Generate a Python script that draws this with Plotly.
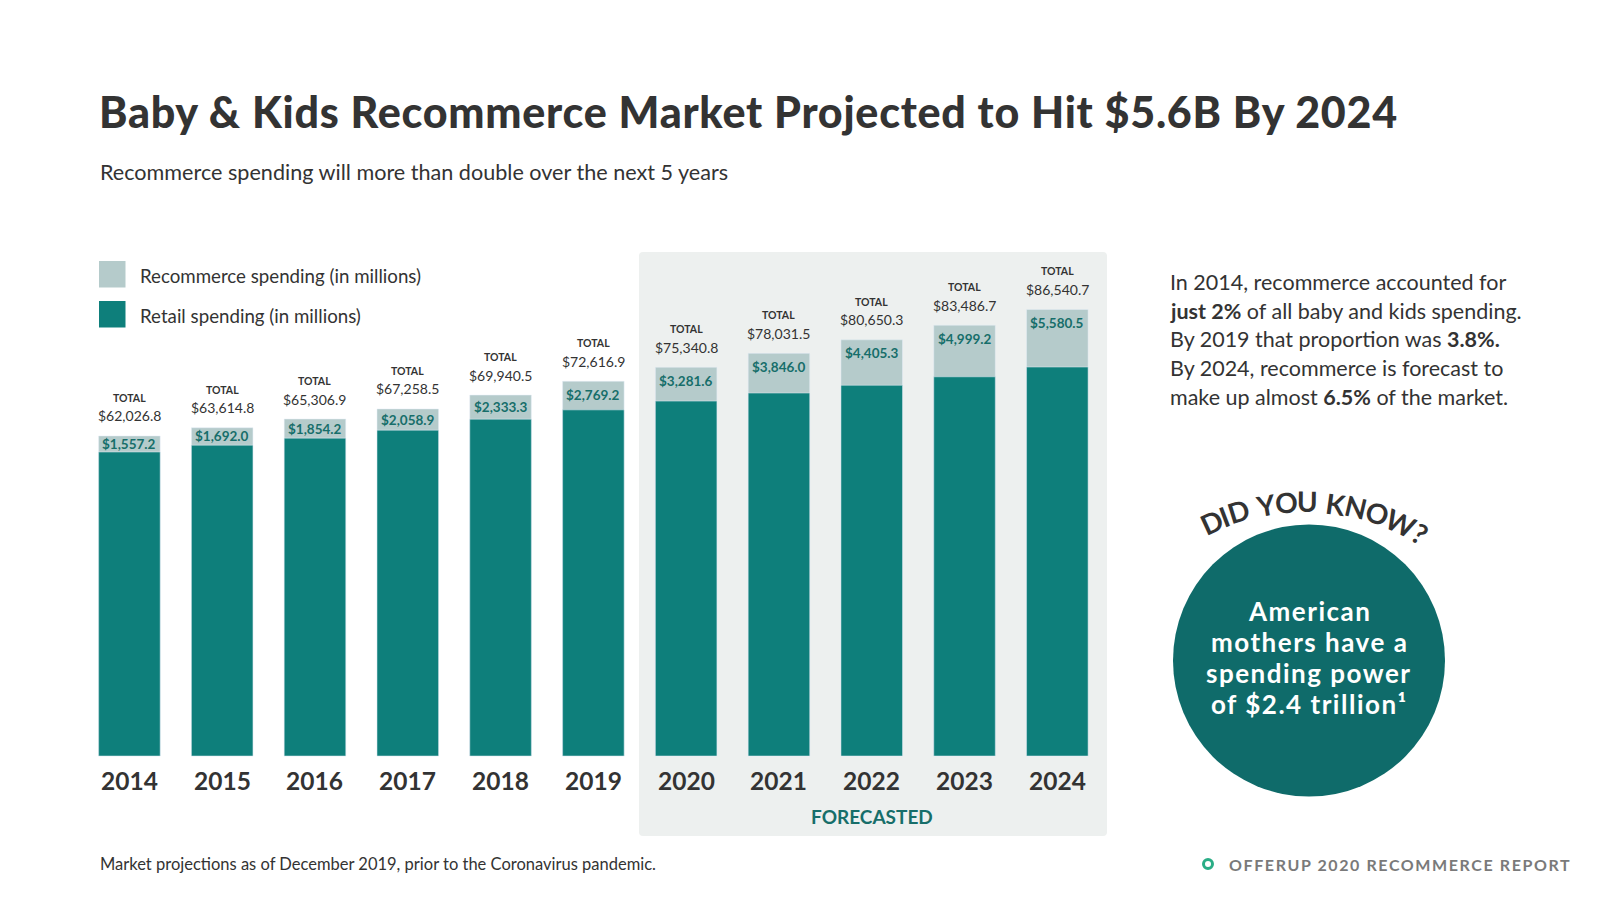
import math
import plotly.graph_objects as go

# ---------------- data ----------------
years = ["2014", "2015", "2016", "2017", "2018", "2019", "2020", "2021", "2022", "2023", "2024"]
recommerce = [1557.2, 1692.0, 1854.2, 2058.9, 2333.3, 2769.2, 3281.6, 3846.0, 4405.3, 4999.2, 5580.5]
totals = [62026.8, 63614.8, 65306.9, 67258.5, 69940.5, 72616.9, 75340.8, 78031.5, 80650.3, 83486.7, 86540.7]
forecast_years = ["2020", "2021", "2022", "2023", "2024"]

# the reference draws the recommerce band at twice the scale of the totals
REC_SCALE = 2.0

# ---------------- geometry ----------------
W, H = 1600, 900
ML, MR, MT, MB = 83, 487, 240, 60
PW = W - ML - MR
PH = H - MT - MB
BASE_PX = 756
YMAX = 100000.0
UPP = YMAX / (BASE_PX - MT)          # data units per pixel
YMIN = -(H - MB - BASE_PX) * UPP

def px(x):
    return (x - ML) / PW

def py(y):
    return (H - MB - y) / PH

DARK = "#0e7f7b"
LIGHT = "#b5cbcb"
TXT = "#333333"
LABEL_TEAL = "#176e6a"
FONT = "Lato"

idx = list(range(len(years)))
retail_visible = [t - REC_SCALE * r for t, r in zip(totals, recommerce)]

fig = go.Figure()
fig.add_trace(go.Bar(x=idx, y=totals, marker_color=LIGHT, width=0.663,
                     name="Recommerce spending (in millions)", hoverinfo="skip"))
fig.add_trace(go.Bar(x=idx, y=retail_visible, marker_color=DARK, width=0.663,
                     name="Retail spending (in millions)", hoverinfo="skip"))

ann = []
shapes = []

def rrect_path(x0, y0, x1, y1, r):
    def P(a, b):
        return f"{px(a):.5f},{py(b):.5f}"
    return (f"M {P(x0 + r, y0)} L {P(x1 - r, y0)} Q {P(x1, y0)} {P(x1, y0 + r)} "
            f"L {P(x1, y1 - r)} Q {P(x1, y1)} {P(x1 - r, y1)} L {P(x0 + r, y1)} "
            f"Q {P(x0, y1)} {P(x0, y1 - r)} L {P(x0, y0 + r)} Q {P(x0, y0)} {P(x0 + r, y0)} Z")

# forecast panel
shapes.append(dict(type="path", xref="paper", yref="paper",
                   path=rrect_path(639, 252, 1107, 836, 4),
                   fillcolor="#edf0ef", line=dict(width=0), layer="below"))

# bar labels
for i, yr, r, t in zip(idx, years, recommerce, totals):
    ann.append(dict(x=i, y=t, xref="x", yref="y", yshift=38, showarrow=False,
                    text="TOTAL", font=dict(family=FONT, size=10.5, color=TXT, weight="bold")))
    ann.append(dict(x=i, y=t, xref="x", yref="y", yshift=20, showarrow=False,
                    text=f"${t:,.1f}", font=dict(family=FONT, size=14, color=TXT)))
    ann.append(dict(x=i, y=t - min(REC_SCALE * r / 2, 13.5 * UPP), xref="x", yref="y",
                    showarrow=False, text=f"${r:,.1f}",
                    font=dict(family=FONT, size=13.5, color=LABEL_TEAL, weight="bold")))
    ann.append(dict(x=i, y=-(780 - BASE_PX) * UPP, xref="x", yref="y", showarrow=False,
                    text=yr, font=dict(family=FONT, size=24.5, color=TXT, weight="bold")))

fc_center = sum(years.index(y) for y in forecast_years) / len(forecast_years)
ann.append(dict(x=fc_center, y=-(816 - BASE_PX) * UPP, xref="x", yref="y", showarrow=False,
                text="FORECASTED", font=dict(family=FONT, size=19, color="#176e6a", weight="bold")))

# title & subtitle
ann.append(dict(x=px(97), y=py(112), xref="paper", yref="paper", xanchor="left", yanchor="middle",
                showarrow=False,
                text="<span style='letter-spacing:0.75px'>Baby &amp; Kids Recommerce Market Projected to Hit $5.6B By 2024</span>",
                font=dict(family=FONT, size=43, color=TXT, weight=900)))
ann.append(dict(x=px(98), y=py(172.5), xref="paper", yref="paper", xanchor="left", yanchor="middle",
                showarrow=False, text="Recommerce spending will more than double over the next 5 years",
                font=dict(family=FONT, size=21.6, color=TXT)))

# legend
for (y0, col, label) in [(261, LIGHT, "Recommerce spending (in millions)"),
                         (301, DARK, "Retail spending (in millions)")]:
    shapes.append(dict(type="rect", xref="paper", yref="paper", x0=px(99), x1=px(125.5),
                       y0=py(y0 + 26.5), y1=py(y0), fillcolor=col, line=dict(width=0)))
    ann.append(dict(x=px(138), y=py(y0 + 15), xref="paper", yref="paper", xanchor="left",
                    yanchor="middle", showarrow=False, text=label,
                    font=dict(family=FONT, size=18.7, color=TXT)))

# side text
side_lines = ["In 2014, recommerce accounted for",
              "<b>just 2%</b> of all baby and kids spending.",
              "By 2019 that proportion was <b>3.8%.</b>",
              "By 2024, recommerce is forecast to",
              "make up almost <b>6.5%</b> of the market."]
for i, line in enumerate(side_lines):
    ann.append(dict(x=px(1168), y=py(281.6 + i * 28.9), xref="paper", yref="paper",
                    xanchor="left", yanchor="middle", showarrow=False, text=line,
                    font=dict(family=FONT, size=21.5, color=TXT)))

# did-you-know circle
CX, CY, CR = 1309, 660.5, 136
shapes.append(dict(type="circle", xref="paper", yref="paper", x0=px(CX - CR), x1=px(CX + CR),
                   y0=py(CY + CR), y1=py(CY - CR), fillcolor="#0f6b6a", line=dict(width=0)))
circle_lines = ["American", "mothers have a", "spending power", "of $2.4 trillion¹"]
for i, line in enumerate(circle_lines):
    ann.append(dict(x=px(CX), y=py(611 + i * 31), xref="paper", yref="paper",
                    xanchor="center", yanchor="middle", showarrow=False,
                    text=f"<span style='letter-spacing:1.5px'>{line}</span>",
                    font=dict(family=FONT, size=26, color="white", weight="bold")))

# curved "DID YOU KNOW?"
arc_text = "DID YOU KNOW?"
em = {"D": 0.72, "I": 0.30, " ": 0.30, "Y": 0.66, "O": 0.78, "U": 0.72, "K": 0.68,
      "N": 0.76, "W": 1.0, "?": 0.48}
pos = []
acc = 0.0
for ch in arc_text:
    w = em[ch]
    pos.append(acc + w / 2)
    acc += w
A0, A1 = -24.5, 30.5
ACX, ACY, AR = 1305, 728, 226.6
for ch, p in zip(arc_text, pos):
    if ch == " ":
        continue
    t = (p - pos[0]) / (pos[-1] - pos[0])
    ang = A0 + t * (A1 - A0)
    a = math.radians(ang)
    x = ACX + AR * math.sin(a)
    y = ACY - AR * math.cos(a)
    ann.append(dict(x=px(x), y=py(y), xref="paper", yref="paper", xanchor="center",
                    yanchor="middle", showarrow=False, text=ch, textangle=ang,
                    font=dict(family=FONT, size=28, color=TXT, weight="bold")))

# footer
ann.append(dict(x=px(98), y=py(864), xref="paper", yref="paper", xanchor="left", yanchor="middle",
                showarrow=False,
                text="Market projections as of December 2019, prior to the Coronavirus pandemic.",
                font=dict(family=FONT, size=16.5, color=TXT)))
shapes.append(dict(type="circle", xref="paper", yref="paper", x0=px(1203.5), x1=px(1212.5),
                   y0=py(868.5), y1=py(859.5), fillcolor="white",
                   line=dict(color="#2aad86", width=3)))
ann.append(dict(x=px(1227), y=py(864), xref="paper", yref="paper", xanchor="left", yanchor="middle",
                showarrow=False,
                text="<span style='letter-spacing:1.6px'>OFFERUP 2020 RECOMMERCE REPORT</span>",
                font=dict(family=FONT, size=16, color="#7a7a7a", weight="bold")))

fig.update_layout(
    width=W, height=H,
    margin=dict(l=ML, r=MR, t=MT, b=MB),
    barmode="overlay",
    showlegend=False,
    paper_bgcolor="white", plot_bgcolor="rgba(0,0,0,0)",
    xaxis=dict(type="linear", range=[-0.5, 10.6], showgrid=False, zeroline=False,
               showticklabels=False, showline=False, ticks="", fixedrange=True),
    yaxis=dict(range=[YMIN, YMAX], showgrid=False, zeroline=False, showticklabels=False,
               showline=False, ticks="", fixedrange=True),
    annotations=ann, shapes=shapes,
    font=dict(family=FONT),
)
fig.write_html("out.html")
